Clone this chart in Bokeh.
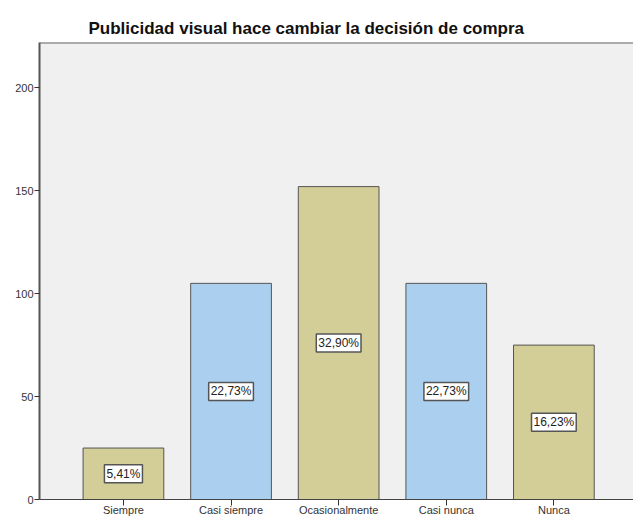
from bokeh.plotting import figure
from bokeh.models import Range1d, FixedTicker, ColumnDataSource, Span
from bokeh.core.properties import value
from bokeh.embed import file_html
from bokeh.resources import INLINE

categories = ["Siempre", "Casi siempre", "Ocasionalmente", "Casi nunca", "Nunca"]
counts = [25, 105, 152, 105, 75]
pct_labels = ["5,41%", "22,73%", "32,90%", "22,73%", "16,23%"]
y_ticks = [0, 50, 100, 150, 200]
y_max = 222

bar_colors = ["#d3ce97", "#abcfee", "#d3ce97", "#abcfee", "#d3ce97"]

idx = list(range(len(categories)))
src = ColumnDataSource(dict(
    x=idx, top=counts, color=bar_colors, lab=pct_labels,
    mid=[c / 2 for c in counts],
))

p = figure(width=633, height=518, output_backend="svg", toolbar_location=None,
           x_range=Range1d(-0.78, 4.74), y_range=Range1d(0, y_max),
           min_border_left=39, min_border_right=0, min_border_top=42,
           min_border_bottom=10)

p.title.text = "Publicidad visual hace cambiar la decisión de compra"
p.title.text_font = "Liberation Sans"
p.title.text_font_size = "17px"
p.title.text_font_style = "bold"
p.title.text_color = "#111111"
p.title.align = "left"
p.title.offset = 49
p.title.standoff = 10

p.background_fill_color = "#f0f0f0"
p.border_fill_color = "white"
p.outline_line_color = None
p.xgrid.visible = False
p.ygrid.visible = False

p.add_layout(Span(location=y_max, dimension="width", line_color="#666666",
                  line_width=2))

p.vbar(x="x", top="top", width=0.75, bottom=0, fill_color="color",
       line_color="#555555", line_width=1, source=src)

p.text(x="x", y="mid", text="lab", source=src,
       text_align="center", text_baseline="middle",
       text_font=value("Liberation Sans"), text_font_size="12px",
       text_color="#222222",
       background_fill_color="white", border_line_color="#555555",
       border_line_width=1.5, padding=2)

p.yaxis.ticker = FixedTicker(ticks=y_ticks)
p.yaxis.axis_line_color = "#555555"
p.yaxis.axis_line_width = 2
p.yaxis.major_tick_out = 5
p.yaxis.major_tick_in = 0
p.yaxis.minor_tick_line_color = None
p.yaxis.major_tick_line_color = "#333333"
p.yaxis.major_label_text_font = "Liberation Sans"
p.yaxis.major_label_text_font_size = "11px"
p.yaxis.major_label_text_color = "#333333"
p.yaxis.major_label_standoff = 1

p.xaxis.ticker = FixedTicker(ticks=idx)
p.xaxis.major_label_overrides = {i: c for i, c in zip(idx, categories)}
p.xaxis.axis_line_color = "#444444"
p.xaxis.axis_line_width = 1
p.xaxis.major_tick_out = 6
p.xaxis.major_tick_in = 0
p.xaxis.minor_tick_line_color = None
p.xaxis.major_tick_line_color = "#333333"
p.xaxis.major_label_text_font = "Liberation Sans"
p.xaxis.major_label_text_font_size = "11px"
p.xaxis.major_label_text_color = "#333333"
p.xaxis.major_label_standoff = -2

open("out.html", "w").write(file_html(p, INLINE))
